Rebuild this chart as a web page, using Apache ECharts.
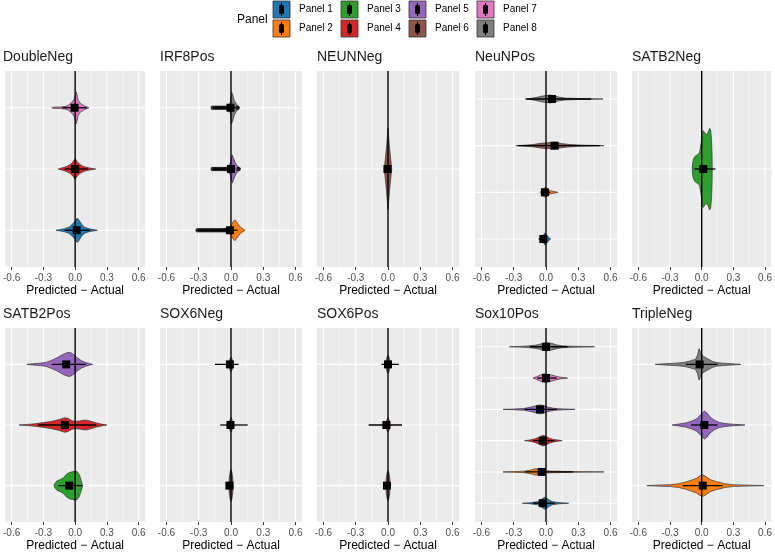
<!DOCTYPE html>
<html><head><meta charset="utf-8">
<script src="https://cdn.jsdelivr.net/npm/echarts@6/dist/echarts.min.js"></script>
<style>html,body{margin:0;padding:0;background:#fff}#c{width:775px;height:553px}</style>
</head><body><div id="c"></div>
<script>
// ---------- data ----------
const panelNames = ['Panel 1','Panel 2','Panel 3','Panel 4','Panel 5','Panel 6','Panel 7','Panel 8'];
const panelColors = ['#1F77B4','#FF7F0E','#2CA02C','#D62728','#9467BD','#8C564B','#E377C2','#7F7F7F'];
const facetNames = ['DoubleNeg','IRF8Pos','NEUNNeg','NeuNPos','SATB2Neg','SATB2Pos','SOX6Neg','SOX6Pos','Sox10Pos','TripleNeg'];
// panels present in each facet, listed bottom -> top
const facetPanels = [[1,4,7],[2,5,8],[6],[1,2,6,8],[3],[3,4,5],[6,7,8],[6,7,8],[1,2,4,5,7,8],[2,5,8]];
// point (square) value per violin
const pointValues = [[0.015,0.0,-0.005],[-0.01,0.0,-0.005],[-0.005],[-0.025,-0.01,0.08,0.055],[0.015],
  [-0.055,-0.095,-0.085],[-0.015,-0.005,-0.01],[-0.01,-0.015,0.0],[-0.03,-0.04,-0.03,-0.055,0.0,0.0],[0.01,0.025,-0.02]];
const rangeLow = [[-0.1,-0.1,-0.12],[-0.05,-0.04,-0.04],[-0.03],[-0.05,-0.04,-0.26,-0.18],[-0.07],
  [-0.16,-0.35,-0.22],[-0.02,-0.1,-0.15],[-0.015,-0.18,-0.06],[-0.12,-0.2,-0.12,-0.2,-0.08,-0.15],[-0.18,-0.1,-0.15]];
const rangeHigh = [[0.14,0.12,0.11],[0.06,0.04,0.04],[0.02],[0.01,0.04,0.5,0.42],[0.13],
  [0.07,0.2,0.1],[0.0,0.155,0.07],[0.005,0.13,0.1],[0.08,0.25,0.08,0.1,0.1,0.2],[0.2,0.15,0.15]];
// individual outlying observations drawn as dots (IRF8Pos, bottom -> top)
const outliersIRF8Pos = [
  [-0.31,-0.29,-0.27,-0.25,-0.23,-0.21,-0.19,-0.17,-0.15,-0.13,-0.11,-0.09,-0.07,-0.05],
  [-0.17,-0.15,-0.13,-0.11,-0.09,-0.07,-0.05,0.07],
  [-0.17,-0.15,-0.13,-0.11,-0.09,-0.07,-0.05,0.06]
];
// violin density profiles: [value, half width in category units], bottom -> top
const profDoubleNeg = [
  [[-0.18,0],[-0.14,0.012],[-0.1,0.025],[-0.06,0.05],[-0.03,0.09],[0.0,0.15],[0.02,0.2],[0.04,0.16],[0.06,0.1],[0.09,0.05],[0.13,0.025],[0.17,0.012],[0.21,0]],
  [[-0.16,0],[-0.13,0.015],[-0.1,0.03],[-0.07,0.05],[-0.04,0.08],[-0.02,0.12],[0.0,0.17],[0.02,0.12],[0.04,0.08],[0.07,0.05],[0.1,0.03],[0.14,0.015],[0.195,0]],
  [[-0.22,0],[-0.2,0.01],[-0.15,0.012],[-0.1,0.02],[-0.07,0.035],[-0.05,0.06],[-0.03,0.09],[-0.01,0.14],[0.0,0.2],[0.01,0.26],[0.02,0.2],[0.03,0.12],[0.05,0.07],[0.07,0.05],[0.09,0.03],[0.11,0.015],[0.13,0]]
];
const profIRF8Pos = [
  [[-0.32,0],[-0.2,0.006],[-0.1,0.012],[-0.04,0.03],[-0.01,0.05],[0.005,0.09],[0.02,0.14],[0.035,0.17],[0.05,0.14],[0.07,0.09],[0.09,0.05],[0.11,0.025],[0.13,0]],
  [[-0.17,0],[-0.1,0.008],[-0.05,0.02],[-0.02,0.05],[-0.005,0.1],[0.005,0.2],[0.012,0.23],[0.025,0.17],[0.04,0.1],[0.06,0.05],[0.075,0.025],[0.09,0]],
  [[-0.17,0],[-0.1,0.008],[-0.05,0.02],[-0.015,0.05],[-0.005,0.1],[0.0,0.2],[0.005,0.26],[0.015,0.22],[0.03,0.12],[0.05,0.06],[0.065,0.03],[0.08,0]]
];
const profNEUNNeg = [
  [[-0.035,0],[-0.025,0.06],[-0.012,0.15],[0.0,0.25],[0.012,0.15],[0.025,0.06],[0.035,0]]
];
const profNeuNPos = [
  [[-0.07,0],[-0.05,0.02],[-0.035,0.05],[-0.02,0.1],[-0.01,0.13],[0.0,0.11],[0.015,0.06],[0.03,0.025],[0.045,0]],
  [[-0.055,0],[-0.04,0.04],[-0.025,0.08],[-0.01,0.1],[0.005,0.09],[0.02,0.06],[0.04,0.035],[0.07,0.02],[0.11,0]],
  [[-0.28,0],[-0.2,0.01],[-0.12,0.025],[-0.05,0.05],[0.02,0.065],[0.08,0.07],[0.14,0.045],[0.22,0.025],[0.32,0.012],[0.44,0.006],[0.54,0]],
  [[-0.195,0],[-0.15,0.01],[-0.1,0.03],[-0.05,0.055],[0.0,0.075],[0.04,0.085],[0.08,0.065],[0.12,0.04],[0.18,0.02],[0.28,0.012],[0.4,0.006],[0.53,0]]
];
const profSATB2Neg = [
  [[-0.09,0],[-0.085,0.04],[-0.075,0.065],[-0.06,0.08],[-0.04,0.088],[-0.02,0.1],[-0.005,0.16],[0.005,0.22],[0.015,0.235],[0.03,0.22],[0.045,0.21],[0.06,0.225],[0.075,0.25],[0.085,0.24],[0.093,0.18],[0.098,0.1],[0.1,0]]
];
const profSATB2Pos = [
  [[-0.2,0],[-0.19,0.04],[-0.17,0.08],[-0.14,0.1],[-0.11,0.13],[-0.08,0.19],[-0.05,0.22],[-0.02,0.23],[0.0,0.24],[0.02,0.23],[0.04,0.18],[0.055,0.1],[0.065,0.04],[0.07,0]],
  [[-0.53,0],[-0.45,0.01],[-0.38,0.02],[-0.3,0.04],[-0.22,0.06],[-0.15,0.09],[-0.1,0.12],[-0.07,0.11],[-0.03,0.07],[0.0,0.06],[0.04,0.065],[0.08,0.08],[0.11,0.08],[0.15,0.06],[0.2,0.035],[0.25,0.015],[0.3,0]],
  [[-0.455,0],[-0.4,0.01],[-0.33,0.02],[-0.27,0.035],[-0.22,0.07],[-0.17,0.11],[-0.12,0.16],[-0.08,0.19],[-0.05,0.2],[-0.02,0.17],[0.02,0.11],[0.06,0.06],[0.1,0.03],[0.14,0.012],[0.165,0]]
];
const profSOX6Neg = [
  [[-0.022,0],[-0.015,0.14],[-0.007,0.23],[0.0,0.26],[0.007,0.23],[0.015,0.14],[0.022,0]],
  [[-0.022,0],[-0.015,0.06],[-0.007,0.1],[0.0,0.12],[0.007,0.1],[0.015,0.06],[0.022,0]],
  [[-0.022,0],[-0.015,0.06],[-0.007,0.1],[0.0,0.12],[0.007,0.1],[0.015,0.06],[0.022,0]]
];
const profSOX6Pos = [
  [[-0.022,0],[-0.015,0.14],[-0.007,0.22],[0.0,0.25],[0.007,0.22],[0.015,0.14],[0.022,0]],
  [[-0.022,0],[-0.015,0.06],[-0.007,0.1],[0.0,0.12],[0.007,0.1],[0.015,0.06],[0.022,0]],
  [[-0.022,0],[-0.015,0.08],[-0.007,0.13],[0.0,0.15],[0.007,0.13],[0.015,0.08],[0.022,0]]
];
const profSox10Pos = [
  [[-0.22,0],[-0.15,0.015],[-0.08,0.05],[-0.05,0.1],[-0.025,0.17],[-0.01,0.19],[0.01,0.16],[0.03,0.1],[0.06,0.05],[0.12,0.02],[0.21,0]],
  [[-0.4,0],[-0.3,0.01],[-0.2,0.025],[-0.14,0.06],[-0.1,0.1],[-0.07,0.09],[-0.04,0.05],[0.0,0.035],[0.06,0.025],[0.15,0.018],[0.25,0.012],[0.4,0.006],[0.54,0]],
  [[-0.2,0],[-0.15,0.02],[-0.1,0.06],[-0.06,0.12],[-0.03,0.17],[0.0,0.14],[0.03,0.08],[0.07,0.04],[0.11,0.02],[0.15,0]],
  [[-0.4,0],[-0.3,0.01],[-0.2,0.03],[-0.13,0.08],[-0.08,0.13],[-0.05,0.14],[-0.02,0.12],[0.02,0.07],[0.08,0.03],[0.17,0.012],[0.27,0]],
  [[-0.12,0],[-0.09,0.04],[-0.05,0.1],[-0.02,0.14],[0.01,0.13],[0.05,0.1],[0.09,0.06],[0.13,0.03],[0.2,0]],
  [[-0.34,0],[-0.25,0.01],[-0.17,0.025],[-0.1,0.05],[-0.05,0.09],[0.0,0.13],[0.05,0.11],[0.1,0.06],[0.15,0.03],[0.25,0.015],[0.35,0.008],[0.45,0]]
];
const profTripleNeg = [
  [[-0.52,0],[-0.42,0.008],[-0.3,0.015],[-0.22,0.03],[-0.15,0.06],[-0.1,0.09],[-0.05,0.12],[-0.02,0.16],[0.01,0.18],[0.04,0.15],[0.08,0.1],[0.13,0.07],[0.18,0.05],[0.22,0.03],[0.3,0.015],[0.42,0.008],[0.59,0]],
  [[-0.28,0],[-0.22,0.015],[-0.15,0.035],[-0.1,0.06],[-0.05,0.1],[-0.01,0.17],[0.025,0.23],[0.05,0.2],[0.08,0.13],[0.12,0.08],[0.17,0.04],[0.22,0.025],[0.3,0.012],[0.41,0]],
  [[-0.44,0],[-0.35,0.01],[-0.25,0.02],[-0.18,0.03],[-0.12,0.05],[-0.09,0.07],[-0.06,0.08],[-0.04,0.15],[-0.025,0.26],[-0.01,0.2],[0.01,0.14],[0.04,0.11],[0.07,0.08],[0.1,0.05],[0.14,0.03],[0.2,0.02],[0.28,0.012],[0.37,0]]
];
const facetProfiles = [profDoubleNeg, profIRF8Pos, profNEUNNeg, profNeuNPos, profSATB2Neg, profSATB2Pos, profSOX6Neg, profSOX6Pos, profSox10Pos, profTripleNeg];
const facetOutliers = {1: outliersIRF8Pos};
const xTicks = [-0.6, -0.3, 0, 0.3, 0.6];
const xMinorTicks = [-0.45, -0.15, 0.15, 0.45];
const xTitle = 'Predicted \u2212 Actual';
const legendTitle = 'Panel';

// ---------- layout ----------
const colLeft = [3, 160, 317, 475, 632];
const rowTop = [71, 328];
const rowH = [196, 198];
const panelW = 142;
const FONT = '"Liberation Sans", Arial, sans-serif';

const grids = [], xAxes = [], yAxes = [], series = [], titles = [];
facetNames.forEach((name, f) => {
  const col = f % 5, row = Math.floor(f / 5);
  const n = facetPanels[f].length;
  grids.push({left: colLeft[col], top: rowTop[row], width: panelW, height: rowH[row],
    show: true, backgroundColor: '#EBEBEB', borderWidth: 0, containLabel: false});
  xAxes.push({type: 'value', gridIndex: f, min: -0.66, max: 0.66,
    axisLine: {show: false}, splitLine: {show: false},
    axisTick: {show: true, length: 3, lineStyle: {color: '#333333', width: 1}, customValues: xTicks},
    axisLabel: {color: '#4D4D4D', fontSize: 10, fontFamily: FONT, margin: 6, customValues: xTicks,
      formatter: v => (Math.abs(v) < 1e-9 ? 0 : v).toFixed(1)},
    name: xTitle, nameLocation: 'middle', nameGap: 18,
    nameTextStyle: {color: '#000', fontSize: 12, fontFamily: FONT, verticalAlign: 'top'}});
  yAxes.push({type: 'value', gridIndex: f, min: 0.4, max: n + 0.6, show: false,
    splitLine: {show: false}});
  titles.push({text: name, left: colLeft[col], top: rowTop[row] - 21, padding: 0,
    textStyle: {fontSize: 14, fontWeight: 'normal', color: '#1A1A1A', fontFamily: FONT}});

  // grid lines
  const gl = [];
  xMinorTicks.forEach(v => gl.push([0, v]));
  xTicks.forEach(v => gl.push([1, v]));
  facetPanels[f].forEach((p, k) => gl.push([2, k + 1]));
  series.push({type: 'custom', xAxisIndex: f, yAxisIndex: f, z: 1, silent: true, clip: true,
    data: gl,
    renderItem: (params, api) => {
      const cs = params.coordSys;
      const kind = api.value(0), v = api.value(1);
      if (kind < 2) {
        const p = api.coord([v, 1]);
        return {type: 'line', shape: {x1: p[0], y1: cs.y, x2: p[0], y2: cs.y + cs.height},
          style: {stroke: '#FFFFFF', lineWidth: kind === 1 ? 1.1 : 0.55}};
      }
      const p = api.coord([0, v]);
      return {type: 'line', shape: {x1: cs.x, y1: p[1], x2: cs.x + cs.width, y2: p[1]},
        style: {stroke: '#FFFFFF', lineWidth: 1.1}};
    }});

  // violins
  const profs = facetProfiles[f];
  series.push({type: 'custom', xAxisIndex: f, yAxisIndex: f, z: 2, silent: true, clip: true,
    data: facetPanels[f].map((p, k) => [k + 1, k, p]),
    renderItem: (params, api) => {
      const cat = api.value(0), idx = api.value(1), pnl = api.value(2);
      const prof = profs[idx];
      const top = [], bot = [];
      prof.forEach(([v, h]) => { top.push(api.coord([v, cat + h])); bot.push(api.coord([v, cat - h])); });
      return {type: 'polygon', shape: {points: top.concat(bot.reverse())},
        style: {fill: panelColors[pnl - 1], stroke: '#333333', lineWidth: 0.7}};
    }});

  // outlier dots
  if (facetOutliers[f]) {
    const od = [];
    facetOutliers[f].forEach((arr, k) => arr.forEach(v => od.push([v, k + 1])));
    series.push({type: 'custom', xAxisIndex: f, yAxisIndex: f, z: 3, silent: true, clip: true,
      data: od,
      renderItem: (params, api) => {
        const p = api.coord([api.value(0), api.value(1)]);
        return {type: 'circle', shape: {cx: p[0], cy: p[1], r: 2.2}, style: {fill: 'rgba(0,0,0,0.75)'}};
      }});
  }

  // zero line
  series.push({type: 'custom', xAxisIndex: f, yAxisIndex: f, z: 4, silent: true, clip: true,
    data: [[0]],
    renderItem: (params, api) => {
      const cs = params.coordSys;
      const p = api.coord([api.value(0), 1]);
      return {type: 'line', shape: {x1: p[0], y1: cs.y, x2: p[0], y2: cs.y + cs.height},
        style: {stroke: '#000000', lineWidth: 1.4}};
    }});

  // point ranges
  series.push({type: 'custom', xAxisIndex: f, yAxisIndex: f, z: 5, silent: true, clip: true,
    data: facetPanels[f].map((p, k) => [k + 1, pointValues[f][k], rangeLow[f][k], rangeHigh[f][k]]),
    renderItem: (params, api) => {
      const cat = api.value(0);
      const c = api.coord([api.value(1), cat]);
      const a = api.coord([api.value(2), cat]);
      const b = api.coord([api.value(3), cat]);
      return {type: 'group', children: [
        {type: 'line', shape: {x1: a[0], y1: a[1], x2: b[0], y2: b[1]}, style: {stroke: '#000', lineWidth: 1.3}},
        {type: 'rect', shape: {x: c[0] - 4, y: c[1] - 4, width: 8, height: 8}, style: {fill: '#000'}}
      ]};
    }});
});

// legend (drawn as graphic)
const legendEls = [{type: 'text', x: 237, y: 20,
  style: {text: legendTitle, fontSize: 12, fontFamily: FONT, fill: '#000', verticalAlign: 'middle', align: 'left'}}];
panelNames.forEach((nm, i) => {
  const col = Math.floor(i / 2), row = i % 2;
  const kx = 273 + col * 68, ky = 1 + row * 19;
  legendEls.push({type: 'rect', shape: {x: kx, y: ky, width: 17, height: 17},
    style: {fill: panelColors[i], stroke: '#333333', lineWidth: 0.8}});
  legendEls.push({type: 'line', shape: {x1: kx + 8.5, y1: ky + 2, x2: kx + 8.5, y2: ky + 15},
    style: {stroke: '#000', lineWidth: 1.2}});
  legendEls.push({type: 'rect', shape: {x: kx + 6, y: ky + 4, width: 5, height: 9, r: 1.5},
    style: {fill: '#000'}});
  legendEls.push({type: 'text', x: kx + 26, y: ky + 8.5,
    style: {text: nm, fontSize: 10, fontFamily: FONT, fill: '#000', verticalAlign: 'middle', align: 'left'}});
});

const chart = echarts.init(document.getElementById('c'), null, {renderer: 'canvas'});
chart.setOption({
  animation: false,
  backgroundColor: '#FFFFFF',
  title: titles,
  grid: grids,
  xAxis: xAxes,
  yAxis: yAxes,
  series: series,
  graphic: {elements: legendEls}
});
</script></body></html>
